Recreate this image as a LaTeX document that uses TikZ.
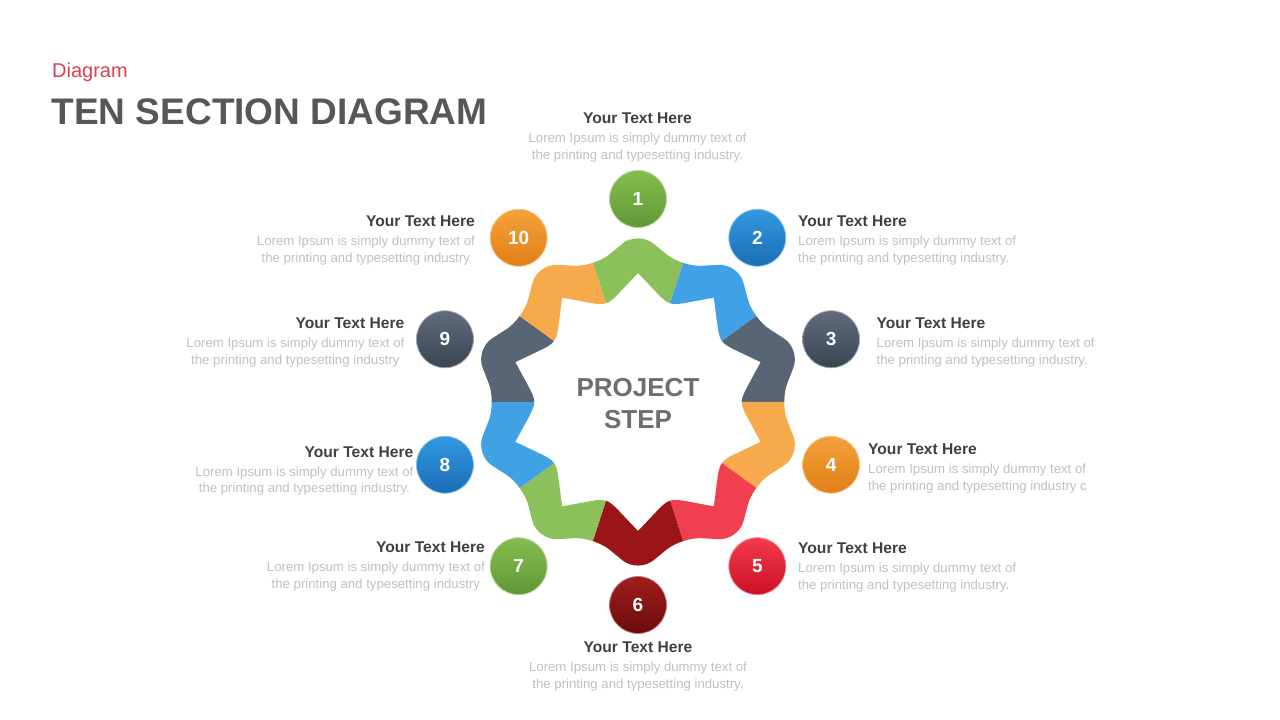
\documentclass[tikz,border=0pt]{standalone}
\usepackage{fontspec}
\setmainfont{Liberation Sans}
\usetikzlibrary{calc}
\definecolor{cgreen}{HTML}{8CC05A}
\definecolor{cblue}{HTML}{40A1E5}
\definecolor{cslate}{HTML}{576575}
\definecolor{corange}{HTML}{F6AA4C}
\definecolor{cred}{HTML}{F0404F}
\definecolor{cdred}{HTML}{9A1518}
\definecolor{gT}{HTML}{86BD4F}\definecolor{gB}{HTML}{5F9736}
\definecolor{bT}{HTML}{3399E0}\definecolor{bB}{HTML}{1A6DB5}
\definecolor{sT}{HTML}{606C7C}\definecolor{sB}{HTML}{3A4553}
\definecolor{oT}{HTML}{F5A13A}\definecolor{oB}{HTML}{E07F17}
\definecolor{rT}{HTML}{F23B4C}\definecolor{rB}{HTML}{CC1024}
\definecolor{dT}{HTML}{A11D1D}\definecolor{dB}{HTML}{6B0C0C}
\definecolor{ttl}{HTML}{404040}
\definecolor{lor}{HTML}{C0C0C0}
\definecolor{maingray}{HTML}{575757}
\definecolor{subred}{HTML}{D64152}
\definecolor{centergray}{HTML}{6E6E6E}
\begin{document}
\begin{tikzpicture}[x=1pt,y=1pt,
  ytitle/.style={font=\fontsize{15.6}{18}\selectfont\bfseries, text=ttl, inner sep=0pt},
  lorem/.style={font=\fontsize{13.2}{16}\selectfont, text=lor, inner sep=0pt},
  head/.style={circle, minimum size=57pt, inner sep=0pt, text=white, font=\fontsize{19}{20}\selectfont\bfseries},
  ctext/.style={font=\fontsize{26}{28}\selectfont\bfseries, text=centergray, inner sep=0pt}
]
\useasboundingbox (0,0) rectangle (1280,720);
\fill[white] (0,0) rectangle (1280,720);

% titles
\node[font=\fontsize{20}{24}\selectfont, text=subred, anchor=base west, inner sep=0pt] (sub) at (52,642) {Diagram};
\node[font=\fontsize{37}{40}\selectfont\bfseries, text=maingray, anchor=base west, inner sep=0pt] (maintitle) at (51.5,595.5) {TEN SECTION DIAGRAM};

\begin{scope}[shift={(638,318)}]
  % band pieces
  \foreach \k/\col in {0/cgreen,1/cblue,2/cslate,3/corange,4/cred,5/cdred,6/cgreen,7/cblue,8/cslate,9/corange}{
    \pgfmathsetmacro\th{90-36*\k}
    \begin{scope}
      \clip (0,0) -- ({\th-18}:260) -- (\th:270) -- ({\th+18}:260) -- cycle;
      \fill[\col, even odd rule]
        [rounded corners=20pt] ($(108:142)!0.5!(90:171)$)
          \foreach \a [evaluate=\a as \b using \a-18] in {90,54,...,-234}{
            -- (\a:171) -- (\b:142) } -- cycle
        [sharp corners] ($(108:101)!0.75!(90:129)$)
          \foreach \a [evaluate=\a as \b using \a-18, evaluate=\a as \c using \a-36] in {90,54,...,-234}{
            -- (\a:129) -- ($(\a:129)!0.5!(\b:101)$) .. controls (\b:101) .. ($(\b:101)!0.5!(\c:129)$) } -- cycle;
    \end{scope}
  }
  % heads
  \foreach \n/\ct/\cb in {1/gT/gB,2/bT/bB,3/sT/sB,4/oT/oB,5/rT/rB,6/dT/dB,7/gT/gB,8/bT/bB,9/sT/sB,10/oT/oB}{
    \node[head, top color=\ct, bottom color=\cb, draw=\ct!60!white, line width=0.8pt] (h\n) at ({126-36*\n}:203) {\n};
  }
  \node[ctext] (proj) at (0,14) {PROJECT};
  \node[ctext] (step) at (0,-18) {STEP};
\end{scope}

% label 1 (top, centered)
\node[ytitle, anchor=base] (t1) at (637.5,596) {Your Text Here};
\node[lorem, anchor=base] (t1a) at (637.5,577) {Lorem Ipsum is simply dummy text of};
\node[lorem, anchor=base] (t1b) at (637.5,560.5) {the printing and typesetting industry.};
% label 6 (bottom, centered)
\node[ytitle, anchor=base] (t6) at (638,67) {Your Text Here};
\node[lorem, anchor=base] (t6a) at (638,48) {Lorem Ipsum is simply dummy text of};
\node[lorem, anchor=base] (t6b) at (638,31.5) {the printing and typesetting industry.};
% right labels
\node[ytitle, anchor=base west] (t2) at (798,493) {Your Text Here};
\node[lorem, anchor=base west] (t2a) at (798,474) {Lorem Ipsum is simply dummy text of};
\node[lorem, anchor=base west] (t2b) at (798,457.5) {the printing and typesetting industry.};
\node[ytitle, anchor=base west] (t3) at (876.5,391) {Your Text Here};
\node[lorem, anchor=base west] (t3a) at (876.5,372) {Lorem Ipsum is simply dummy text of};
\node[lorem, anchor=base west] (t3b) at (876.5,355.5) {the printing and typesetting industry.};
\node[ytitle, anchor=base west] (t4) at (868,265) {Your Text Here};
\node[lorem, anchor=base west] (t4a) at (868,246) {Lorem Ipsum is simply dummy text of};
\node[lorem, anchor=base west] (t4b) at (868,229.5) {the printing and typesetting industry c};
\node[ytitle, anchor=base west] (t5) at (798,166) {Your Text Here};
\node[lorem, anchor=base west] (t5a) at (798,147) {Lorem Ipsum is simply dummy text of};
\node[lorem, anchor=base west] (t5b) at (798,130.5) {the printing and typesetting industry.};
% left labels
\node[ytitle, anchor=base east] (t7) at (485,167) {Your Text Here};
\node[lorem, anchor=base east] (t7a) at (485,148) {Lorem Ipsum is simply dummy text of};
\node[lorem, anchor=base] (t7b) at ($(t7a.base)+(0,-16.5)$) {the printing and typesetting industry};
\node[ytitle, anchor=base east] (t8) at (413.5,262.5) {Your Text Here};
\node[lorem, anchor=base east] (t8a) at (413.5,243.5) {Lorem Ipsum is simply dummy text of};
\node[lorem, anchor=base] (t8b) at ($(t8a.base)+(0,-16.5)$) {the printing and typesetting industry.};
\node[ytitle, anchor=base east] (t9) at (404.5,391) {Your Text Here};
\node[lorem, anchor=base east] (t9a) at (404.5,372) {Lorem Ipsum is simply dummy text of};
\node[lorem, anchor=base] (t9b) at ($(t9a.base)+(0,-16.5)$) {the printing and typesetting industry};
\node[ytitle, anchor=base east] (t10) at (475,493) {Your Text Here};
\node[lorem, anchor=base east] (t10a) at (475,474) {Lorem Ipsum is simply dummy text of};
\node[lorem, anchor=base] (t10b) at ($(t10a.base)+(0,-16.5)$) {the printing and typesetting industry};
\end{tikzpicture}
\end{document}
